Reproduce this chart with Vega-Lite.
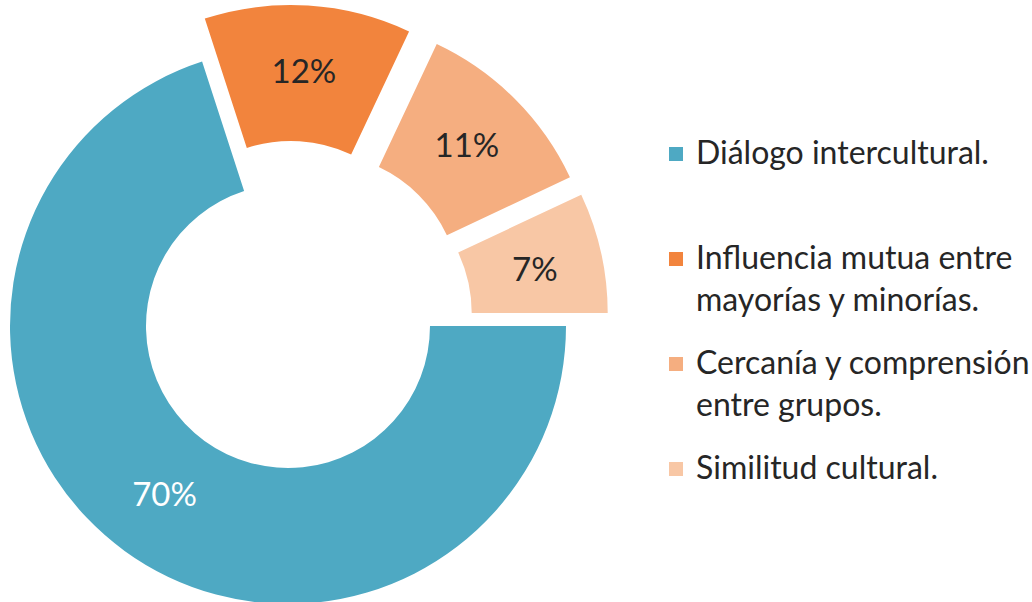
{
  "$schema": "https://vega.github.io/schema/vega-lite/v6.json",
  "width": 576,
  "height": 652,
  "padding": 0,
  "autosize": {"type": "pad"},
  "background": "white",
  "view": {"stroke": null},
  "data": {
    "values": [
      {"cat": "Diálogo intercultural.", "value": 70, "order": 1, "label": "70%"},
      {"cat": "Influencia mutua entre mayorías y minorías.", "value": 12, "order": 2, "label": "12%"},
      {"cat": "Cercanía y comprensión entre grupos.", "value": 11, "order": 3, "label": "11%"},
      {"cat": "Similitud cultural.", "value": 7, "order": 4, "label": "7%"}
    ]
  },
  "transform": [
    {"stack": "value", "groupby": [], "sort": [{"field": "order", "order": "ascending"}], "as": ["start", "end"]}
  ],
  "encoding": {
    "color": {
      "field": "cat",
      "type": "nominal",
      "scale": {
        "domain": ["Diálogo intercultural.", "Influencia mutua entre mayorías y minorías.", "Cercanía y comprensión entre grupos.", "Similitud cultural."],
        "range": ["#4EA9C3", "#F2843D", "#F5AE80", "#F8C7A5"]
      },
      "legend": {
        "title": null,
        "orient": "none",
        "legendX": 660,
        "legendY": 138,
        "symbolType": "square",
        "symbolSize": 196,
        "symbolStrokeWidth": 0,
        "labelFont": "Lato",
        "labelFontSize": 32,
        "labelColor": "#262626",
        "labelOffset": 4,
        "labelLimit": 500,
        "rowPadding": 31,
        "labelExpr": "datum.label == 'Influencia mutua entre mayorías y minorías.' ? ['Influencia mutua entre', 'mayorías y minorías.'] : datum.label == 'Cercanía y comprensión entre grupos.' ? ['Cercanía y comprensión', 'entre grupos.'] : [datum.label, '']",
        "encode": {"labels": {"update": {"lineHeight": {"value": 42}}}}
      }
    }
  },
  "layer": [
    {
      "transform": [{"filter": "datum.order == 1"}],
      "mark": {"type": "arc", "innerRadius": 142, "outerRadius": 278},
      "encoding": {
        "theta": {"field": "start", "type": "quantitative", "scale": {"domain": [0, 100], "range": [1.5708, 7.85398]}},
        "theta2": {"field": "end"}
      }
    },
    {
      "transform": [{"filter": "datum.order == 2"}],
      "mark": {"type": "arc", "innerRadius": 142, "outerRadius": 278, "xOffset": 2.7, "yOffset": -43},
      "encoding": {
        "theta": {"field": "start", "type": "quantitative", "scale": {"domain": [0, 100], "range": [1.5708, 7.85398]}},
        "theta2": {"field": "end"}
      }
    },
    {
      "transform": [{"filter": "datum.order == 3"}],
      "mark": {"type": "arc", "innerRadius": 142, "outerRadius": 278, "xOffset": 30.4, "yOffset": -30.4},
      "encoding": {
        "theta": {"field": "start", "type": "quantitative", "scale": {"domain": [0, 100], "range": [1.5708, 7.85398]}},
        "theta2": {"field": "end"}
      }
    },
    {
      "transform": [{"filter": "datum.order == 4"}],
      "mark": {"type": "arc", "innerRadius": 142, "outerRadius": 278, "xOffset": 41.7, "yOffset": -13},
      "encoding": {
        "theta": {"field": "start", "type": "quantitative", "scale": {"domain": [0, 100], "range": [1.5708, 7.85398]}},
        "theta2": {"field": "end"}
      }
    },
    {
      "mark": {"type": "text", "font": "Lato", "fontSize": 33, "align": "center", "baseline": "middle"},
      "encoding": {
        "theta": {"field": "value", "type": "quantitative", "stack": true, "scale": {"domain": [0, 100], "range": [1.5708, 7.85398]}},
        "order": {"field": "order", "type": "quantitative"},
        "radius": {"value": 210},
        "text": {"field": "label", "type": "nominal"},
        "color": {"value": "#FFFFFF"},
        "opacity": {"condition": {"test": "datum.order == 1", "value": 1}, "value": 0}
      }
    },
    {
      "mark": {"type": "text", "font": "Lato", "fontSize": 33, "align": "center", "baseline": "middle"},
      "encoding": {
        "theta": {"field": "value", "type": "quantitative", "stack": true, "scale": {"domain": [0, 100], "range": [1.5708, 7.85398]}},
        "order": {"field": "order", "type": "quantitative"},
        "radius": {"value": 253},
        "text": {"field": "label", "type": "nominal"},
        "color": {"value": "#262626"},
        "opacity": {"condition": {"test": "datum.order != 1", "value": 1}, "value": 0}
      }
    }
  ]
}
